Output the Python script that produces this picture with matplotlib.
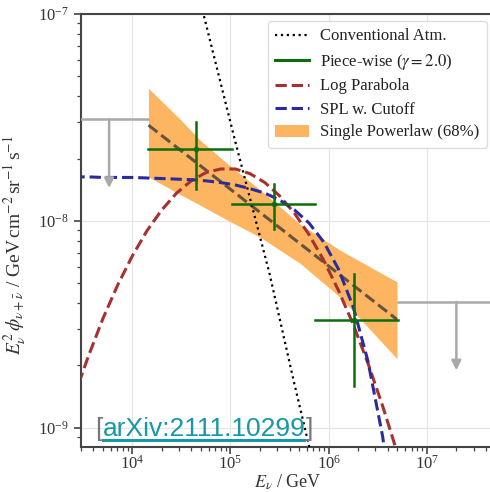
import matplotlib
matplotlib.use("Agg")
import matplotlib.pyplot as plt
from matplotlib.lines import Line2D
from matplotlib.patches import Patch, FancyArrowPatch
from matplotlib.ticker import NullFormatter, LogFormatterSciNotation

plt.rcParams.update({
    "font.family": "serif",
    "font.serif": ["Liberation Serif", "DejaVu Serif"],
    "mathtext.fontset": "stix",
})

# --- single power-law fit: best-fit line and 68% band ---------------------
spl_energy = [1.46e4, 4.97e6]
spl_flux = [2.90e-8, 3.33e-9]
band_energy = [1.46e4, 3.07e4, 4.91e4, 9.93e4, 2.01e5, 5.13e5, 1.31e6, 4.97e6]
band_upper = [4.37e-8, 3.10e-8, 2.45e-8, 1.84e-8, 1.41e-8, 9.62e-9, 7.20e-9, 5.06e-9]
band_lower = [1.63e-8, 1.34e-8, 1.19e-8, 9.91e-9, 8.32e-9, 6.22e-9, 4.27e-9, 2.15e-9]

# --- piece-wise (gamma = 2.0) segments -------------------------------------
pw_energy = [4.43e4, 2.79e5, 1.82e6]
pw_flux = [2.22e-8, 1.21e-8, 3.33e-9]
pw_flux_hi = [3.01e-8, 1.51e-8, 5.55e-9]
pw_flux_lo = [1.43e-8, 9.16e-9, 1.58e-9]
pw_bin_lo = [1.46e4, 1.04e5, 7.20e5]
pw_bin_hi = [1.04e5, 7.20e5, 5.05e6]

# --- upper limits in the outer segments ------------------------------------
ul_bin_lo = [2.0e3, 5.05e6]
ul_bin_hi = [1.46e4, 6.0e7]
ul_flux = [3.10e-8, 4.05e-9]
ul_arrow_energy = [5.8e3, 2.0e7]
ul_arrow_tip = [1.44e-8, 1.89e-9]

# --- conventional atmospheric flux -----------------------------------------
atm_energy = [4.47e4, 5.30e4, 1.11e5, 2.04e5, 2.51e5, 4.39e5, 6.24e5, 7.08e5]
atm_flux = [1.38e-7, 1.00e-7, 2.45e-8, 8.05e-9, 5.50e-9, 1.69e-9, 8.34e-10, 6.46e-10]

# --- log-parabola and cut-off power-law models -----------------------------
model_energy = [2.51e3, 3.55e3, 5.01e3, 7.08e3, 1.00e4, 1.41e4, 2.00e4, 2.82e4,
                3.98e4, 5.62e4, 7.94e4, 1.12e5, 1.58e5, 2.24e5, 3.16e5, 4.47e5,
                6.31e5, 8.91e5, 1.26e6, 1.78e6, 2.51e6, 3.55e6, 5.01e6, 7.08e6]
logpar_flux = [1.38e-9, 2.20e-9, 3.36e-9, 4.88e-9, 6.76e-9, 8.95e-9, 1.13e-8, 1.36e-8,
               1.56e-8, 1.71e-8, 1.78e-8, 1.78e-8, 1.69e-8, 1.53e-8, 1.32e-8, 1.09e-8,
               8.57e-9, 6.44e-9, 4.60e-9, 3.15e-9, 2.05e-9, 1.27e-9, 7.53e-10, 4.26e-10]
cutoff_flux = [1.63e-8, 1.63e-8, 1.62e-8, 1.62e-8, 1.62e-8, 1.61e-8, 1.60e-8, 1.59e-8,
               1.58e-8, 1.56e-8, 1.53e-8, 1.49e-8, 1.43e-8, 1.36e-8, 1.26e-8, 1.13e-8,
               9.75e-9, 7.89e-9, 5.83e-9, 3.83e-9, 2.10e-9, 9.04e-10, 2.75e-10, 5.0e-11]

# tick positions
x_ticks = [1e4, 1e5, 1e6, 1e7]
y_ticks = [1e-9, 1e-8, 1e-7]

GREEN = "#0b6e0b"
RED = "#a8302f"
BLUE = "#2b2ba0"
ORANGE = "#fdb562"
GREY = "#a9a9a9"

fig = plt.figure(figsize=(4.9, 4.92), dpi=100)
ax = fig.add_axes([81 / 490, 1 - 447 / 492, 414 / 490, 433 / 492])
ax.set_xscale("log")
ax.set_yscale("log")
ax.set_xticks(x_ticks)
ax.set_yticks(y_ticks)
ax.xaxis.set_major_formatter(LogFormatterSciNotation())
ax.yaxis.set_major_formatter(LogFormatterSciNotation())
ax.xaxis.set_minor_formatter(NullFormatter())
ax.yaxis.set_minor_formatter(NullFormatter())
ax.set_xlim(3.0e3, 4.95e7)
ax.set_ylim(8.05e-10, 1e-7)

ax.grid(True, which="major", color="#e6e6e6", lw=0.9, zorder=0)
ax.set_axisbelow(True)

ax.fill_between(band_energy, band_lower, band_upper, color=ORANGE, lw=0, zorder=1)
ax.plot(spl_energy, spl_flux, ls="--", color="#333333", alpha=0.75, lw=2.2, zorder=2)

ax.plot(atm_energy, atm_flux, ls=":", color="k", lw=1.6, zorder=3)
ax.plot(model_energy, logpar_flux, ls="--", color=RED, lw=2.2, zorder=3)
ax.plot(model_energy, cutoff_flux, ls="--", color=BLUE, lw=2.2, zorder=3)

for e, f, hi, lo, blo, bhi in zip(pw_energy, pw_flux, pw_flux_hi, pw_flux_lo,
                                  pw_bin_lo, pw_bin_hi):
    ax.plot([blo, bhi], [f, f], color=GREEN, lw=1.8, zorder=4)
    ax.plot([e, e], [lo, hi], color=GREEN, lw=1.8, zorder=4)
    ax.plot([e], [f], "o", color=GREEN, ms=3, zorder=4)

for blo, bhi, f, xa, tip in zip(ul_bin_lo, ul_bin_hi, ul_flux, ul_arrow_energy, ul_arrow_tip):
    ax.plot([blo, bhi], [f, f], color=GREY, lw=1.8, zorder=4)
    ax.add_patch(FancyArrowPatch((xa, f), (xa, tip), arrowstyle="-|>", color=GREY,
                                 lw=1.8, mutation_scale=14, shrinkA=0, shrinkB=0,
                                 zorder=4))

for side in ("left", "bottom", "top"):
    ax.spines[side].set_color("#444444")
    ax.spines[side].set_linewidth(1.5)
ax.spines["right"].set_visible(False)
ax.tick_params(which="major", length=5, width=1.2, color="#444444", labelsize=12,
               labelcolor="#333333", direction="out")
ax.tick_params(axis="x", which="major", pad=0.5)
ax.tick_params(which="minor", length=3, width=0.9, color="#444444", direction="out")
ax.tick_params(top=False, right=False, which="both")

ax.set_xlabel(r"$E_\nu$ / GeV", fontsize=13, color="#333333", labelpad=0)
ax.set_ylabel(r"$E_\nu^2\,\phi_{\nu+\bar{\nu}}$ / GeV$\,$cm$^{-2}\,$sr$^{-1}\,$s$^{-1}$",
              fontsize=14, color="#333333")
ax.yaxis.set_label_coords(-0.125, 0.466)

handles = [
    Line2D([], [], ls=":", color="k", lw=1.6),
    Line2D([], [], color=GREEN, lw=2.2),
    Line2D([], [], ls="--", color=RED, lw=2.2),
    Line2D([], [], ls="--", color=BLUE, lw=2.2),
    Patch(facecolor=ORANGE, edgecolor="none"),
]
labels = ["Conventional Atm.", r"Piece-wise ($\gamma = 2.0$)", "Log Parabola",
          "SPL w. Cutoff", "Single Powerlaw (68%)"]
leg = fig.legend(handles, labels, loc="upper right", bbox_to_anchor=(487 / 490, 1 - 21 / 492),
                 borderaxespad=0, fontsize=12, frameon=True, fancybox=True, framealpha=1,
                 edgecolor="#dddddd", borderpad=0.45, labelspacing=0.42, handletextpad=0.7)
leg.get_frame().set_linewidth(1.0)
for t in leg.get_texts():
    t.set_color("#222222")

# citation tag
fig.canvas.draw()
renderer = fig.canvas.get_renderer()
inv = fig.transFigure.inverted()
x0, y0 = 95 / 490, 1 - 436 / 492
tkw = dict(fontsize=19, family="Liberation Sans", va="baseline", ha="left")
t1 = fig.text(x0, y0, "[", color="#777777", **tkw)
bb = t1.get_window_extent(renderer)
x1 = inv.transform((bb.x1, 0))[0]
t2 = fig.text(x1, y0, "arXiv:2111.10299", color="#1798a6", **tkw)
bb2 = t2.get_window_extent(renderer)
x2 = inv.transform((bb2.x1, 0))[0]
fig.text(x2, y0, "]", color="#777777", **tkw)
uy = y0 - 3.5 / 492
fig.add_artist(Line2D([x1 + 1 / 490, x2 - 1 / 490], [uy, uy], color="#1798a6", lw=2.2,
                      transform=fig.transFigure))

fig.savefig("out.png", dpi=100)
